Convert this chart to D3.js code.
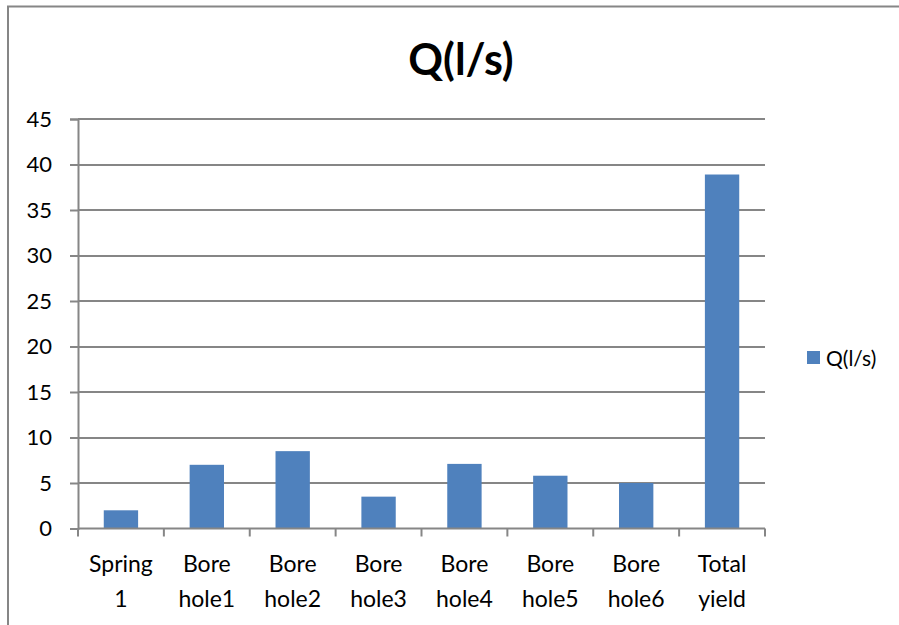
<!DOCTYPE html>
<html>
<head>
<meta charset="utf-8">
<script src="https://cdn.jsdelivr.net/npm/d3@7"></script>
<style>
  html, body { margin: 0; padding: 0; background: #fff; }
  svg { display: block; }
  text { font-family: Lato, "Liberation Sans", sans-serif; fill: #000; }
</style>
</head>
<body>
<script>
// Discharge per source (litres per second)
const categories = [["Spring", "1"], ["Bore", "hole1"], ["Bore", "hole2"], ["Bore", "hole3"],
                    ["Bore", "hole4"], ["Bore", "hole5"], ["Bore", "hole6"], ["Total", "yield"]];
const values = [2.0, 7.0, 8.5, 3.5, 7.1, 5.8, 5.0, 38.9];
const yTicks = [0, 5, 10, 15, 20, 25, 30, 35, 40, 45];
const seriesName = "Q(l/s)";

const W = 899, H = 625;
const margin = { left: 78, right: 134, top: 119, bottom: 96.5 };
const gridColor = "#868686";
const barColor = "#4F81BD";

const svg = d3.select("body").append("svg").attr("width", W).attr("height", H);

// chart frame
svg.append("rect")
  .attr("x", 8).attr("y", 6.5).attr("width", W + 20).attr("height", H + 20)
  .attr("fill", "#fff").attr("stroke", gridColor).attr("stroke-width", 2);

const x = d3.scaleBand()
  .domain(d3.range(categories.length))
  .range([margin.left, W - margin.right])
  .paddingInner(0.6).paddingOuter(0.3);

const y = d3.scaleLinear()
  .domain([0, 45])
  .range([H - margin.bottom, margin.top]);

// title
svg.append("text")
  .attr("x", 461).attr("y", 75)
  .attr("text-anchor", "middle")
  .attr("font-size", 43).attr("font-weight", "bold")
  .text(seriesName);

// horizontal gridlines
svg.append("g").selectAll("line").data(yTicks.filter(d => d > 0)).join("line")
  .attr("x1", margin.left).attr("x2", W - margin.right)
  .attr("y1", d => Math.round(y(d))).attr("y2", d => Math.round(y(d)))
  .attr("stroke", gridColor).attr("stroke-width", 2);

// y axis
const yAxis = svg.append("g")
  .attr("transform", `translate(${margin.left},0)`)
  .call(d3.axisLeft(y).tickValues(yTicks).tickSize(8).tickPadding(18).tickFormat(d3.format("d")));
yAxis.select(".domain").attr("stroke", gridColor).attr("stroke-width", 2);
yAxis.selectAll(".tick line").attr("stroke", gridColor).attr("stroke-width", 2);
yAxis.selectAll(".tick text").attr("font-size", 22).attr("font-family", "Lato, sans-serif").attr("fill", "#000");

// bars
svg.append("g").selectAll("rect").data(values).join("rect")
  .attr("x", (d, i) => x(i))
  .attr("width", x.bandwidth())
  .attr("y", d => y(d))
  .attr("height", d => y(0) - y(d))
  .attr("fill", barColor);

// x axis with ticks at category boundaries
const xAxisY = y(0);
const bounds = d3.range(categories.length + 1).map(i => margin.left + i * (W - margin.right - margin.left) / categories.length);
const xg = svg.append("g");
xg.append("line")
  .attr("x1", margin.left).attr("x2", W - margin.right)
  .attr("y1", xAxisY).attr("y2", xAxisY)
  .attr("stroke", gridColor).attr("stroke-width", 2);
xg.selectAll("line.tk").data(bounds).join("line").attr("class", "tk")
  .attr("x1", d => d).attr("x2", d => d)
  .attr("y1", xAxisY).attr("y2", xAxisY + 8)
  .attr("stroke", gridColor).attr("stroke-width", 2);

// category labels (two lines each)
const lab = svg.append("g").selectAll("text").data(categories).join("text")
  .attr("text-anchor", "middle")
  .attr("font-size", 23);
lab.each(function(d, i) {
  const cx = x(i) + x.bandwidth() / 2;
  d3.select(this).selectAll("tspan").data(d).join("tspan")
    .attr("x", cx)
    .attr("y", (t, j) => 572 + j * 35)
    .text(t => t);
});

// legend
const lg = svg.append("g").attr("transform", "translate(807,351)");
lg.append("rect").attr("width", 13).attr("height", 13).attr("fill", barColor);
lg.append("text").attr("x", 19).attr("y", 14.5).attr("font-size", 21).text(seriesName);
</script>
</body>
</html>
